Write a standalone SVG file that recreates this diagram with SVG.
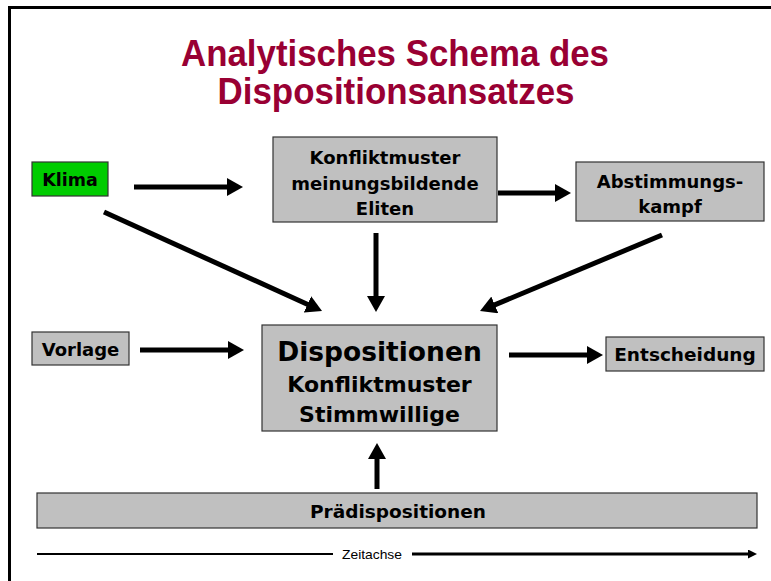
<svg xmlns="http://www.w3.org/2000/svg" width="771" height="581" viewBox="0 0 771 581">
<style>
.box{fill:#C0C0C0;stroke:#333333;stroke-width:1.2}
.lbl{font-family:"DejaVu Sans",Verdana,sans-serif;font-weight:bold;fill:#000;text-anchor:middle}
.title{font-family:"Liberation Sans",Arial,sans-serif;font-weight:bold;fill:#990033;text-anchor:middle;font-size:36px}
.conn{stroke:#000;stroke-width:5;fill:none}
</style>
<defs>
<marker id="ah" markerUnits="userSpaceOnUse" markerWidth="17" markerHeight="18" refX="4" refY="9" orient="auto" viewBox="0 0 17 18">
<path d="M0,0 L16,9 L0,18 z" fill="#000"/>
</marker>
<marker id="ahs" markerUnits="userSpaceOnUse" markerWidth="10" markerHeight="9" refX="2" refY="4.5" orient="auto" viewBox="0 0 10 9">
<path d="M0,0 L9,4.5 L0,9 z" fill="#000"/>
</marker>
</defs>
<rect x="0" y="0" width="771" height="581" fill="#fff"/>
<path d="M9.5,581 V7.5 H771" fill="none" stroke="#000" stroke-width="3"/>
<g id="title">
<text class="title" x="395" y="66" textLength="428" lengthAdjust="spacingAndGlyphs">Analytisches Schema des</text>
<text class="title" x="396" y="104" textLength="357" lengthAdjust="spacingAndGlyphs">Dispositionsansatzes</text>
</g>
<g id="connectors">
<line class="conn" x1="134" y1="187" x2="231" y2="187" marker-end="url(#ah)"/>
<line class="conn" x1="498" y1="193" x2="559" y2="193" marker-end="url(#ah)"/>
<line class="conn" x1="376" y1="233" x2="376" y2="300" marker-end="url(#ah)"/>
<line class="conn" x1="104" y1="212" x2="311.1" y2="306" marker-end="url(#ah)"/>
<line class="conn" x1="662" y1="235" x2="491.1" y2="306.4" marker-end="url(#ah)"/>
<line class="conn" x1="140" y1="350" x2="232" y2="350" marker-end="url(#ah)"/>
<line class="conn" x1="509" y1="355" x2="591" y2="355" marker-end="url(#ah)"/>
<line class="conn" x1="377" y1="489" x2="377" y2="455" marker-end="url(#ah)"/>
</g>
<g id="klima">
<rect x="32" y="162" width="76" height="34" fill="#00CC00" stroke="#333" stroke-width="1.2"/>
<text class="lbl" x="70" y="186" font-size="17.5">Klima</text>
</g>
<g id="konfliktmuster-eliten">
<rect class="box" x="273" y="137" width="224" height="85"/>
<text class="lbl" x="385" y="164" font-size="18">Konfliktmuster</text>
<text class="lbl" x="385" y="190" font-size="18">meinungsbildende</text>
<text class="lbl" x="385" y="215" font-size="18">Eliten</text>
</g>
<g id="abstimmungskampf">
<rect class="box" x="576" y="162" width="188" height="59"/>
<text class="lbl" x="670" y="188" font-size="18">Abstimmungs-</text>
<text class="lbl" x="670" y="213" font-size="18">kampf</text>
</g>
<g id="vorlage">
<rect class="box" x="32" y="332" width="97" height="33"/>
<text class="lbl" x="80.5" y="355.5" font-size="18">Vorlage</text>
</g>
<g id="dispositionen">
<rect class="box" x="262" y="325" width="235" height="106"/>
<text class="lbl" x="379.5" y="361" font-size="26.5">Dispositionen</text>
<text class="lbl" x="379.5" y="392" font-size="22">Konfliktmuster</text>
<text class="lbl" x="379.5" y="422" font-size="22">Stimmwillige</text>
</g>
<g id="entscheidung">
<rect class="box" x="606" y="337" width="158" height="34"/>
<text class="lbl" x="685" y="361" font-size="18.5">Entscheidung</text>
</g>
<g id="praedispositionen">
<rect class="box" x="37" y="493" width="720" height="35"/>
<text class="lbl" x="398" y="518" font-size="18.5">Prädispositionen</text>
</g>
<g id="zeitachse">
<line x1="37" y1="554" x2="333" y2="554" stroke="#000" stroke-width="2"/>
<line x1="412" y1="554" x2="750" y2="554" stroke="#000" stroke-width="3" marker-end="url(#ahs)"/>
<text x="372" y="558.5" font-family="Liberation Sans,Arial,sans-serif" font-size="13" text-anchor="middle" textLength="60" lengthAdjust="spacingAndGlyphs">Zeitachse</text>
</g>
</svg>
